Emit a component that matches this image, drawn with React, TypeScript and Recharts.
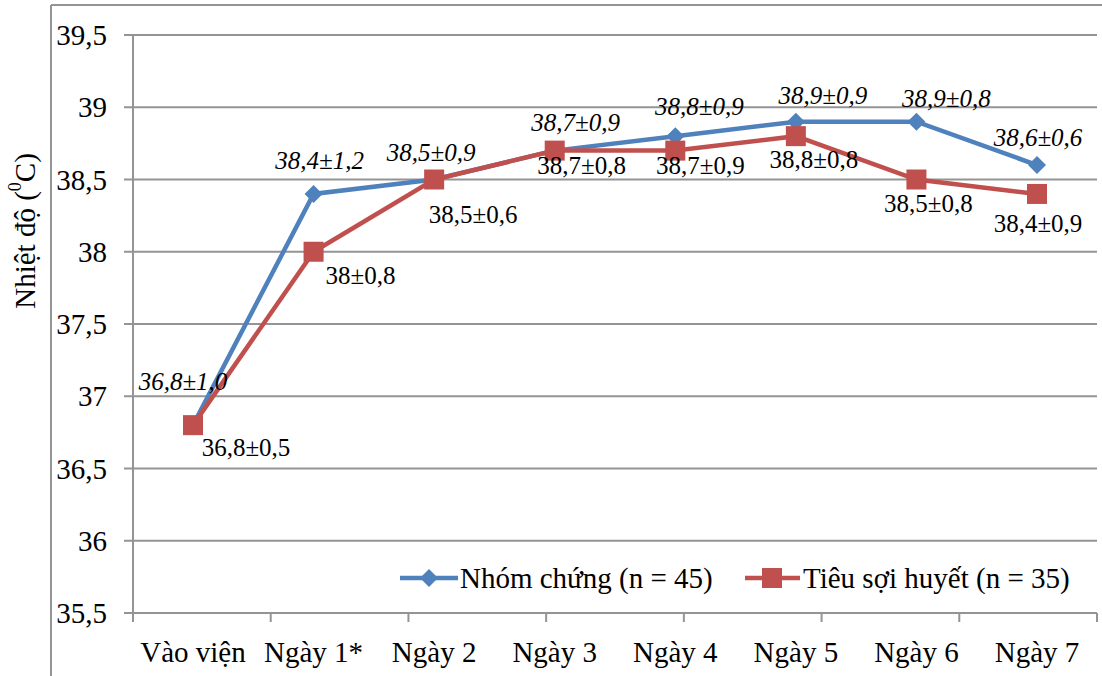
import React from 'react';
import {
  LineChart,
  Line,
  XAxis,
  YAxis,
  CartesianGrid,
  LabelList,
  Customized,
} from 'recharts';

// Categories (days of follow-up)
const categories = ['Vào viện', 'Ngày 1*', 'Ngày 2', 'Ngày 3', 'Ngày 4', 'Ngày 5', 'Ngày 6', 'Ngày 7'];

// Mean temperature per group
const controlMean = [36.8, 38.4, 38.5, 38.7, 38.8, 38.9, 38.9, 38.6];
const treatedMean = [36.8, 38.0, 38.5, 38.7, 38.7, 38.8, 38.5, 38.4];

// Standard deviations shown in the labels
const controlSd = ['1,0', '1,2', '0,9', '0,9', '0,9', '0,9', '0,8', '0,6'];
const treatedSd = ['0,5', '0,8', '0,6', '0,8', '0,9', '0,8', '0,8', '0,9'];

const seriesNames = ['Nhóm chứng (n = 45)', 'Tiêu sợi huyết (n = 35)'];

const yTicks = [35.5, 36, 36.5, 37, 37.5, 38, 38.5, 39, 39.5];
const bandTicks = [0, 1, 2, 3, 4, 5, 6, 7, 8];

// Label placement around each point (dx, dy of label centre)
const controlLabelOffset = [
  [-10, -44], [6, -33], [-3, -27], [21, -28], [24, -30], [27, -26], [30, -23], [1, -28],
];
const treatedLabelOffset = [
  [53, 22], [47, 24], [39, 35], [27, 15], [25, 15], [18, 23], [12, 24], [1, 30],
];

const BLUE = '#4F81BD';
const RED = '#C0504D';
const GRID = '#949494';
const FONT = '"Liberation Serif", "Times New Roman", serif';

const fmt = (v: number) => (Number.isInteger(v) ? String(v) : String(v).replace('.', ','));

const data = categories.map((c, i) => ({
  cat: c,
  control: controlMean[i],
  treated: treatedMean[i],
  controlLabel: `${fmt(controlMean[i])}±${controlSd[i]}`,
  treatedLabel: `${fmt(treatedMean[i])}±${treatedSd[i]}`,
}));

const makeLabel = (offsets: number[][], italic: boolean) => (props: any) => {
  const { x, y, index, value } = props;
  const [dx, dy] = offsets[index];
  return (
    <text
      x={x + dx}
      y={y + dy}
      textAnchor="middle"
      dominantBaseline="central"
      style={{ fontFamily: FONT, fontSize: 25, fontStyle: italic ? 'italic' : 'normal' }}
      fill="#000"
    >
      {value}
    </text>
  );
};

const Diamond = (props: any) => {
  const { cx, cy } = props;
  if (cx == null || cy == null) return null;
  const r = 9;
  return (
    <path
      d={`M${cx},${cy - r} L${cx + r},${cy} L${cx},${cy + r} L${cx - r},${cy} Z`}
      fill={BLUE}
    />
  );
};

const Square = (props: any) => {
  const { cx, cy } = props;
  if (cx == null || cy == null) return null;
  const s = 10;
  return <rect x={cx - s} y={cy - s} width={2 * s} height={2 * s} fill={RED} />;
};

const XTick = (props: any) => {
  const { x, y, payload } = props;
  return (
    <text
      x={x}
      y={y + 22}
      textAnchor="middle"
      dominantBaseline="central"
      style={{ fontFamily: FONT, fontSize: 29 }}
      fill="#000"
    >
      {payload.value}
    </text>
  );
};

const YTick = (props: any) => {
  const { x, y, payload } = props;
  return (
    <text
      x={x}
      y={y}
      textAnchor="end"
      dominantBaseline="central"
      style={{ fontFamily: FONT, fontSize: 29 }}
      fill="#000"
    >
      {fmt(payload.value)}
    </text>
  );
};

const Frame = () => (
  <g>
    <line x1={51} y1={5} x2={51} y2={676} stroke={GRID} strokeWidth={2} />
    <line x1={51} y1={5} x2={1102} y2={5} stroke={GRID} strokeWidth={2} />
    <text
      transform="translate(25,231) rotate(-90)"
      textAnchor="middle"
      dominantBaseline="central"
      style={{ fontFamily: FONT, fontSize: 29 }}
      fill="#000"
    >
      Nhiệt độ (<tspan dy={-10} style={{ fontSize: 18 }}>0</tspan>
      <tspan dy={10}>C)</tspan>
    </text>
  </g>
);

// Legend drawn in the lower right of the plot
const LegendBox = () => (
  <g transform="translate(400,578)" style={{ fontFamily: FONT, fontSize: 29 }}>
    <line x1={0} y1={0} x2={58} y2={0} stroke={BLUE} strokeWidth={4.5} />
    <path d="M29,-9 L38,0 L29,9 L20,0 Z" fill={BLUE} />
    <text x={60} y={0} dominantBaseline="central" fill="#000">
      {seriesNames[0]}
    </text>
    <line x1={345} y1={0} x2={400} y2={0} stroke={RED} strokeWidth={4.5} />
    <rect x={362} y={-10} width={20} height={20} fill={RED} />
    <text x={403} y={0} dominantBaseline="central" fill="#000">
      {seriesNames[1]}
    </text>
  </g>
);

export default function App() {
  return (
    <div style={{ position: 'absolute', left: 0, top: 0, background: '#fff' }}>
      <LineChart
        width={1102}
        height={676}
        data={data}
        margin={{ top: 35, right: 5, bottom: 0, left: 53 }}
      >
        <Customized component={Frame} />
        <CartesianGrid vertical={false} stroke={GRID} strokeWidth={2} />
        <XAxis
          xAxisId="band"
          type="number"
          domain={[0, 8]}
          ticks={bandTicks}
          tickFormatter={() => ''}
          tickSize={9}
          height={9}
          axisLine={{ stroke: GRID, strokeWidth: 2 }}
          tickLine={{ stroke: GRID, strokeWidth: 2 }}
          allowDataOverflow
        />
        <XAxis
          xAxisId="cat"
          dataKey="cat"
          type="category"
          padding={{ left: 60, right: 60 }}
          height={54}
          axisLine={false}
          tickLine={false}
          interval={0}
          tick={<XTick />}
        />
        <YAxis
          domain={[35.5, 39.5]}
          ticks={yTicks}
          width={80}
          tickSize={9}
          tickMargin={17}
          axisLine={{ stroke: GRID, strokeWidth: 2 }}
          tickLine={{ stroke: GRID, strokeWidth: 2 }}
          tick={<YTick />}
          allowDataOverflow
        />
        <Line
          xAxisId="cat"
          dataKey="control"
          name={seriesNames[0]}
          stroke={BLUE}
          strokeWidth={4.5}
          dot={<Diamond />}
          activeDot={false}
          isAnimationActive={false}
        >
          <LabelList dataKey="controlLabel" content={makeLabel(controlLabelOffset, true)} />
        </Line>
        <Line
          xAxisId="cat"
          dataKey="treated"
          name={seriesNames[1]}
          stroke={RED}
          strokeWidth={4.5}
          dot={<Square />}
          activeDot={false}
          isAnimationActive={false}
        >
          <LabelList dataKey="treatedLabel" content={makeLabel(treatedLabelOffset, false)} />
        </Line>
        <Customized component={LegendBox} />
      </LineChart>
    </div>
  );
}
